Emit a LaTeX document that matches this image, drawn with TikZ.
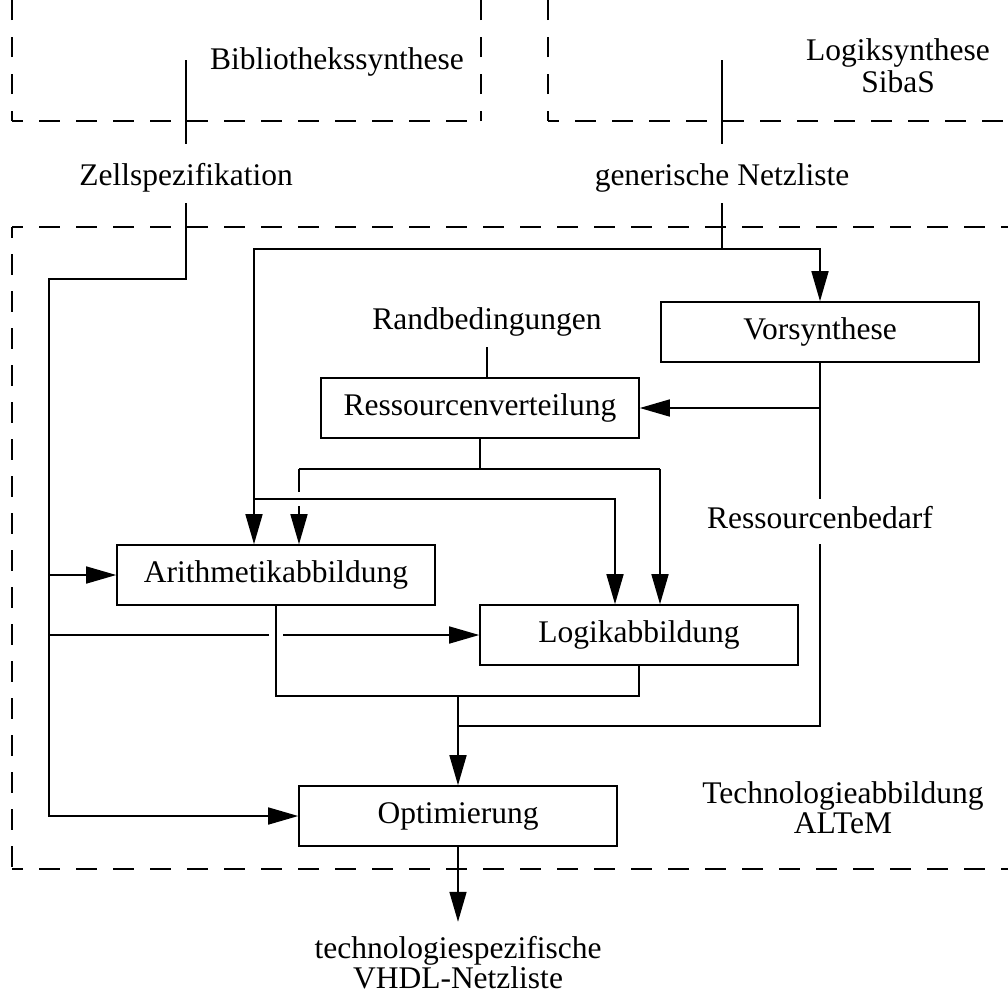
\documentclass[tikz,border=0pt]{standalone}
\usepackage{fontspec}
\setmainfont{Liberation Serif}
\usetikzlibrary{arrows.meta}

\begin{document}
\begin{tikzpicture}[x=1pt, y=-1pt,
  every node/.style={font=\fontsize{31.5}{32}\selectfont},
  box/.style={draw, line width=1.6pt, minimum width=318pt, minimum height=60pt, inner sep=0pt},
  lbl/.style={inner sep=0pt, align=center},
  conn/.style={line width=1.6pt},
  arr/.style={conn, -{Triangle[length=30pt, width=17pt]}},
  region/.style={line width=1.4pt, dash pattern=on 20.5pt off 16.5pt, dash phase=10pt}
]
\useasboundingbox (0,0) rectangle (1008,994);

% dashed frames of the three tools
\draw[region] (12,121) -- (12,0);
\draw[region] (12,121) -- (481,121);
\draw[region] (481,121) -- (481,0);
\draw[region] (548,121) -- (548,0);
\draw[region] (548,121) -- (1008,121);
\draw[region] (12,227) -- (1008,227);
\draw[region] (12,227) -- (12,869);
\draw[region] (12,869) -- (1008,869);

% tool names
\node[lbl, anchor=base] (bib) at (337,69) {Bibliothekssynthese};
\node[lbl, anchor=base] (logs) at (898,60) {Logiksynthese};
\node[lbl, anchor=base] (sibas) at (898,92) {SibaS};
\node[lbl, anchor=base] (techab) at (843,803) {Technologieabbildung};
\node[lbl, anchor=base] (altem) at (843,833) {ALTeM};

% data labels
\node[lbl, anchor=base, text height=41pt, text depth=18pt] (zell) at (186,185) {Zellspezifikation};
\node[lbl, anchor=base, text height=41pt, text depth=18pt] (gen) at (722,185) {generische Netzliste};
\node[lbl, anchor=base, text depth=17.5pt] (rand) at (487,329.5) {Randbedingungen};
\node[lbl, anchor=base, text height=29pt, text depth=16pt] (bedarf) at (820,528) {Ressourcenbedarf};
\node[lbl, anchor=base, text height=36pt] (vhdl) at (458,958) {technologiespezifische};
\node[lbl, anchor=base] (vhdl2) at (458,988) {VHDL-Netzliste};

% processing steps
\node[box] (vor) at (820,332) {Vorsynthese};
\node[box] (res) at (480,408) {Ressourcenverteilung};
\node[box] (ari) at (276,575) {Arithmetikabbildung};
\node[box] (log) at (639,635) {Logikabbildung};
\node[box] (opt) at (458,816) {Optimierung};

% routing points
\coordinate (bibout) at (186,60);
\coordinate (logout) at (722,60);
\coordinate (zb) at (186,279);
\coordinate (lb) at (49,279);
\coordinate (gj) at (722,249);
\coordinate (ga) at (254,249);
\coordinate (gb) at (254,499);
\coordinate (gc) at (615,499);
\coordinate (rj) at (480,469);
\coordinate (rl) at (299,469);
\coordinate (rr) at (660,469);
\coordinate (rgap1) at (299,492);
\coordinate (rgap2) at (299,506);
\coordinate (lgap1) at (269,635);
\coordinate (lgap2) at (283,635);
\coordinate (aj) at (276,696);
\coordinate (lj) at (639,696);
\coordinate (oj) at (458,696);
\coordinate (bj) at (820,726);
\coordinate (bo) at (458,726);

% cell specification feeds every mapping step
\draw[conn] (bibout) -- (zell);
\draw[arr] (zell) -- (zb) -- (lb) |- (opt);
\draw[arr] (lb |- ari) -- (ari);
\draw[conn] (lb |- log) -- (lgap1);
\draw[arr] (lgap2) -- (log);

% generic netlist
\draw[conn] (logout) -- (gen);
\draw[arr] (gen) -- (gj) -| (vor);
\draw[arr] (gj) -- (ga) -- (ga |- ari.north);
\draw[arr] (gb) -- (gc) -- (gc |- log.north);

% constraints and resource distribution
\draw[conn] (rand) -- (rand |- res.north);
\draw[conn] (res) -- (rj);
\draw[conn] (rl) -- (rr);
\draw[conn] (rl) -- (rgap1);
\draw[arr] (rgap2) -- (rl |- ari.north);
\draw[arr] (rr) -- (rr |- log.north);

% resource demand from the pre-synthesis
\draw[conn] (vor) -- (bedarf);
\draw[arr] (vor.south |- res.east) -- (res);
\draw[conn] (bedarf) -- (bj) -- (bo);

% mapping results into optimisation
\draw[conn] (ari) -- (aj) -- (lj) -- (log);
\draw[arr] (oj) -- (opt);
\draw[arr] (opt) -- (vhdl);
\end{tikzpicture}
\end{document}
